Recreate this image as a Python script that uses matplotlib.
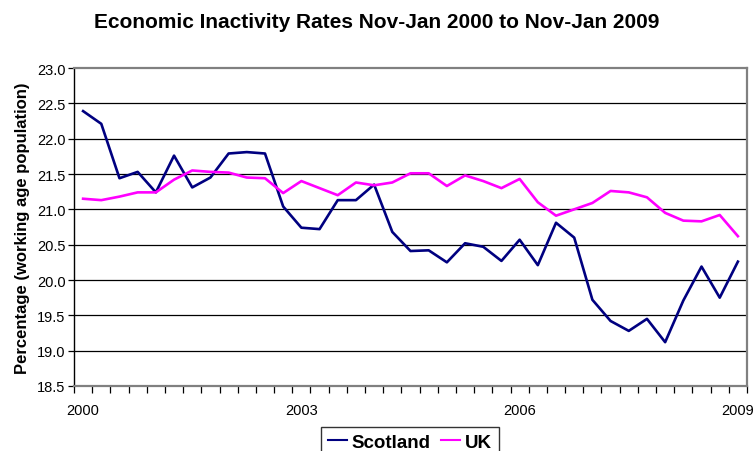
import numpy as np
import matplotlib
matplotlib.use("Agg")
import matplotlib.pyplot as plt

plt.rcParams['font.family'] = ['Liberation Sans', 'DejaVu Sans']

# quarterly values, Nov-Jan 2000 .. Nov-Jan 2009
scotland = [22.39, 22.21, 21.44, 21.53, 21.24, 21.76, 21.31, 21.45, 21.79, 21.81,
            21.79, 21.04, 20.74, 20.72, 21.13, 21.13, 21.35, 20.68, 20.41, 20.42,
            20.25, 20.52, 20.47, 20.27, 20.57, 20.21, 20.81, 20.60, 19.72, 19.42,
            19.28, 19.45, 19.12, 19.71, 20.19, 19.75, 20.26]
uk = [21.15, 21.13, 21.18, 21.24, 21.24, 21.42, 21.55, 21.53, 21.52, 21.45,
      21.44, 21.23, 21.40, 21.30, 21.20, 21.38, 21.34, 21.38, 21.51, 21.51,
      21.33, 21.48, 21.40, 21.30, 21.43, 21.10, 20.91, 21.00, 21.09, 21.26,
      21.24, 21.17, 20.95, 20.84, 20.83, 20.92, 20.62]
year_labels = ['2000', '2003', '2006', '2009']
yticks = [18.5, 19.0, 19.5, 20.0, 20.5, 21.0, 21.5, 22.0, 22.5, 23.0]

x = np.arange(len(scotland))

fig = plt.figure(figsize=(7.55, 4.52), dpi=100)
ax = fig.add_axes([74/755, 1 - 387/452, 673/755, 318/452])

for yv in yticks[1:-1]:
    ax.axhline(yv, color='black', lw=0.9, zorder=1)

ax.plot(x, scotland, color='#000080', lw=1.9, label='Scotland', zorder=3)
ax.plot(x, uk, color='#FF00FF', lw=1.9, label='UK', zorder=3)

ax.set_xlim(-0.5, len(x) - 0.5)
ax.set_ylim(18.5, 23.0)
ax.set_yticks(yticks)
ax.set_yticklabels(['%.1f' % v for v in yticks], fontsize=10.5)

# tick marks on category boundaries, labels every 12 quarters
ax.set_xticks(np.arange(len(x) + 1) - 0.5)
ax.set_xticklabels([])
ax.set_xticks(np.arange(0, len(x), 12), minor=True)
ax.set_xticklabels(year_labels, minor=True, fontsize=10.5)
ax.tick_params(axis='x', which='major', length=5, width=0.9, color='black')
ax.tick_params(axis='x', which='minor', length=0, pad=12)
ax.tick_params(axis='y', length=4, width=0.9, pad=2)

ax.spines['left'].set_color('black')
for s in ['top', 'right', 'bottom']:
    ax.spines[s].set_color('#808080')
    ax.spines[s].set_linewidth(1.6)
ax.spines['left'].set_linewidth(1.0)

ax.set_ylabel('Percentage (working age population)', fontsize=12, fontweight='bold', labelpad=5)
fig.text(377/755, 1 - 22/452, 'Economic Inactivity Rates Nov-Jan 2000 to Nov-Jan 2009',
         ha='center', va='center', fontsize=15, fontweight='bold')

leg = fig.legend(loc='center', bbox_to_anchor=(410/755, 1 - 443/452), ncol=2,
                 frameon=True, fancybox=False, edgecolor='black', handlelength=1.0,
                 handletextpad=0.27, columnspacing=0.55, borderpad=0.35,
                 prop={'weight': 'bold', 'size': 13.5})
leg.get_frame().set_linewidth(1.0)
for h in leg.get_lines():
    h.set_linewidth(1.5)

fig.savefig('out.png', dpi=100)
